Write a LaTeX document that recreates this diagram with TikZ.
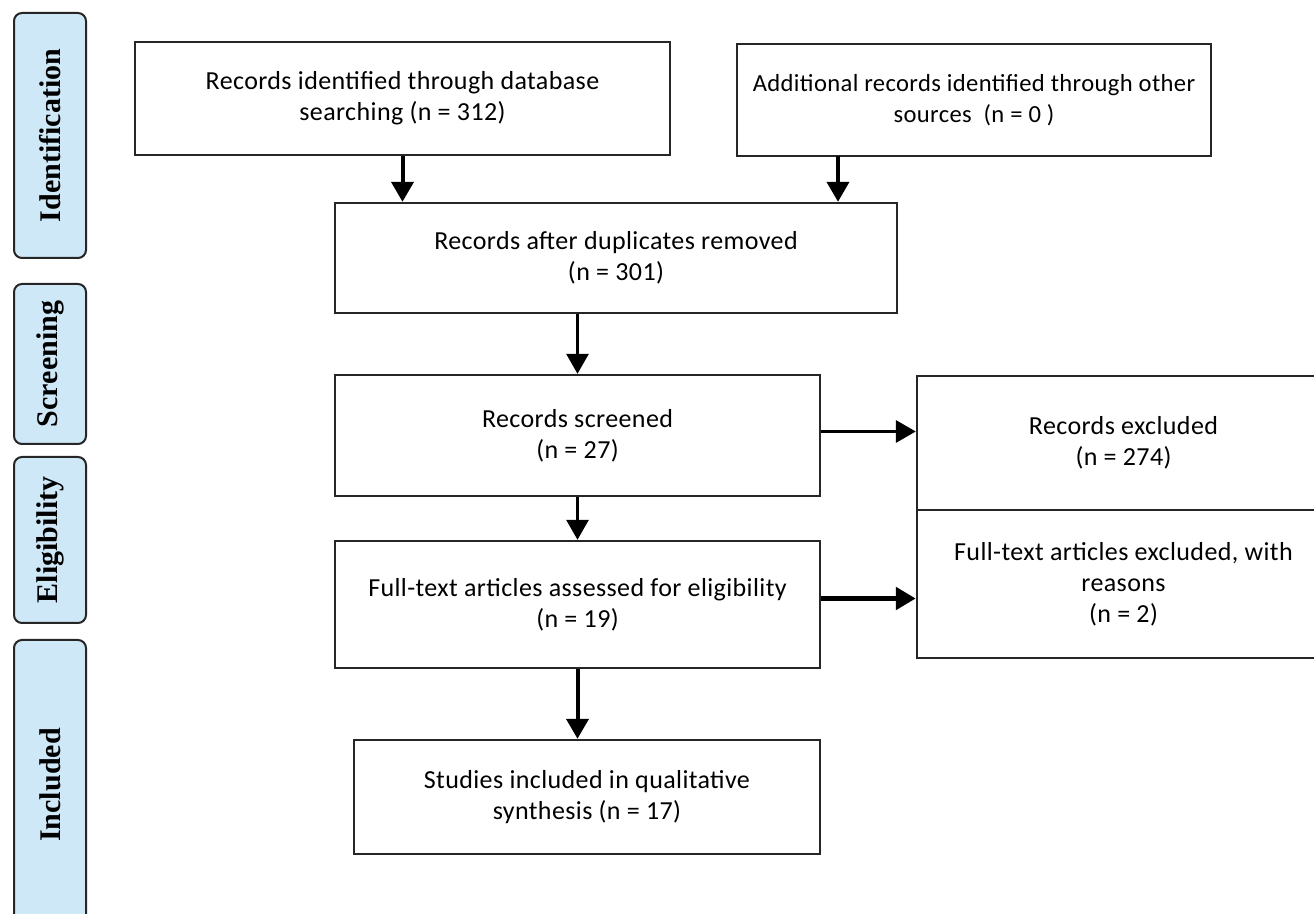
\documentclass[tikz,border=0pt]{standalone}
\usepackage{fontspec}
\setmainfont{Carlito}[LetterSpace=1.5]
\newfontfamily\stagefont{Liberation Serif}
\usetikzlibrary{positioning,arrows.meta,calc}
\definecolor{stagefill}{RGB}{206,232,248}
\tikzset{
  stg/.style={rectangle,draw=black!85,fill=stagefill,line width=1pt,rounded corners=4pt,
    rotate=90,minimum height=36pt,inner sep=0pt,font=\stagefont\fontsize{15}{17}\selectfont\bfseries},
  blk/.style={rectangle,draw=black!85,line width=1.2pt,align=center,inner sep=1pt,
    font=\fontsize{13}{15.5}\selectfont},
  flow/.style={-{Triangle[length=10pt,width=11pt]},line width=2pt},
}
\begin{document}
\begin{tikzpicture}[x=0.5pt,y=-0.5pt]
  \useasboundingbox (0,0) rectangle (1314,914);
  \clip (0,0) rectangle (1314,914);
  \node[stg,minimum width=122.5pt] (sid) at (50,135.5) {Identification};
  \node[stg,minimum width=80pt] (ssc) at (50,364) {Screening};
  \node[stg,minimum width=83pt] (sel) at (50,540) {Eligibility};
  \node[stg,minimum width=145pt] (sin) at (50,785) {Included};

  \node[blk,minimum width=267.5pt,minimum height=56.5pt] (rec) at (402.5,98.5)
    {Records identified through database\\searching (n = 312)};
  \node[blk,minimum width=237pt,minimum height=56pt,font=\fontsize{12.3}{15.5}\selectfont] (oth) at (974,100)
    {Additional records identified through other\\sources\ \ (n = 0 )};
  \node[blk,minimum width=281pt,minimum height=55pt] (dup) at (616,258)
    {Records after duplicates removed\\(n = 301)};
  \node[blk,minimum width=242.5pt,minimum height=60.5pt] (scr) at (577.5,435.5)
    {Records screened\\(n = 27)};
  \node[blk,minimum width=206.5pt,minimum height=67pt] (exc) at (1123.5,443)
    {Records excluded\\(n = 274)};
  \node[blk,minimum width=206.5pt,minimum height=74pt] (ftx) at (1123.5,584)
    {Full-text articles excluded, with\\reasons\\(n = 2)};
  \node[blk,minimum width=242.5pt,minimum height=63.5pt] (elg) at (577.5,604.5)
    {Full-text articles assessed for eligibility\\(n = 19)};
  \node[blk,minimum width=233pt,minimum height=57pt] (inc) at (587,797)
    {Studies included in qualitative\\synthesis (n = 17)};

  \coordinate (oth-out) at (838,156);
  \draw[flow] (rec.south) -- (rec.south |- dup.north);
  \draw[flow] (oth-out) -- (oth-out |- dup.north);
  \draw[flow,line width=1.5pt] (dup.south -| scr.north) -- (scr.north);
  \draw[flow,line width=1.7pt] ([yshift=2pt]scr.east) -- ([yshift=2pt]scr.east -| exc.west);
  \draw[flow,line width=1.5pt] (scr.south) -- (elg.north);
  \draw[flow,line width=2.5pt] ([yshift=3pt]elg.east) -- ([yshift=3pt]elg.east -| ftx.west);
  \draw[flow] (elg.south) -- (elg.south |- inc.north);
\end{tikzpicture}
\end{document}
